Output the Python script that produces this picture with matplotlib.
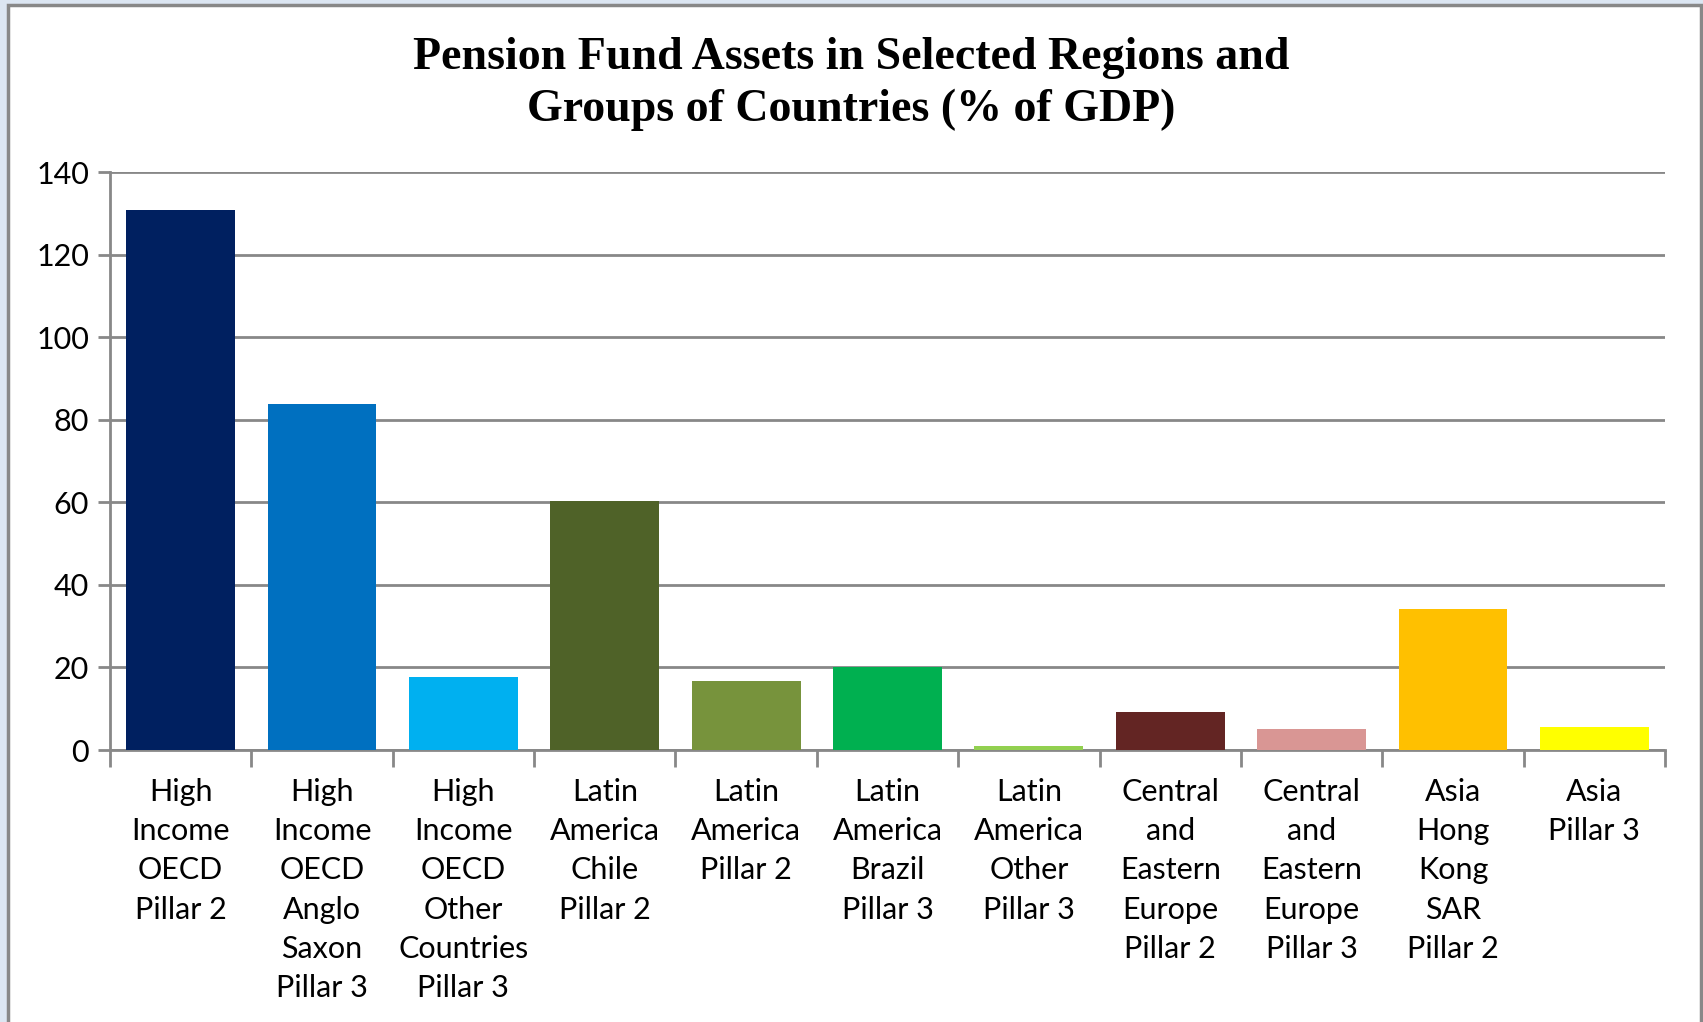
import matplotlib
matplotlib.use("Agg")
import matplotlib.pyplot as plt
from matplotlib.patches import Rectangle

categories = [
    "High\nIncome\nOECD\nPillar 2",
    "High\nIncome\nOECD\nAnglo\nSaxon\nPillar 3",
    "High\nIncome\nOECD\nOther\nCountries\nPillar 3",
    "Latin\nAmerica\nChile\nPillar 2",
    "Latin\nAmerica\nPillar 2",
    "Latin\nAmerica\nBrazil\nPillar 3",
    "Latin\nAmerica\nOther\nPillar 3",
    "Central\nand\nEastern\nEurope\nPillar 2",
    "Central\nand\nEastern\nEurope\nPillar 3",
    "Asia\nHong\nKong\nSAR\nPillar 2",
    "Asia\nPillar 3",
]
values = [130.8, 83.7, 17.7, 60.2, 16.7, 20.0, 1.0, 9.2, 5.1, 34.2, 5.6]
colors = ["#002060", "#0070c0", "#00b0f0", "#4f6228", "#77933c", "#00b050",
          "#92d050", "#632523", "#d99694", "#ffc000", "#ffff00"]
yticks = [0, 20, 40, 60, 80, 100, 120, 140]

W, H = 1703, 1022
fig = plt.figure(figsize=(W / 100, H / 100), dpi=100, facecolor="#dce6f2")
# white chart area with grey border
fig.patches.append(Rectangle((8 / W, -0.1), (1701 - 8) / W, 1.1 - 5 / H,
                             transform=fig.transFigure, facecolor="white",
                             edgecolor="#888888", linewidth=2.5, zorder=-10))

ax = fig.add_axes([110 / W, 1 - 750 / H, (1665 - 110) / W, (750 - 172) / H])
ax.set_zorder(5)
ax.set_facecolor("none")
x = list(range(len(values)))
ax.bar(x, values, width=0.77, color=colors, zorder=3)
ax.set_xlim(-0.5, len(values) - 0.5)
ax.set_ylim(0, 140)
ax.set_yticks(yticks)
ax.set_yticklabels([str(t) for t in yticks], fontsize=22, family="Lato")
ax.tick_params(axis="y", length=9, width=2, color="#888888", pad=6)
ax.yaxis.grid(True, color="#888888", linewidth=2, zorder=1)
ax.set_axisbelow(True)

# category boundary ticks below the axis
ax.set_xticks([i - 0.5 for i in range(len(values) + 1)])
ax.set_xticklabels([])
ax.tick_params(axis="x", which="major", length=12, width=2, color="#888888")
ax.set_xticks(x, minor=True)
ax.set_xticklabels(categories, minor=True, fontsize=22, family="Lato",
                   linespacing=1.49)
ax.tick_params(axis="x", which="minor", length=0, pad=20)

for s in ["top", "right"]:
    ax.spines[s].set_visible(False)
for s in ["left", "bottom"]:
    ax.spines[s].set_color("#888888")
    ax.spines[s].set_linewidth(2)

fig.text(0.5, 1 - 84 / H,
         "Pension Fund Assets in Selected Regions and\nGroups of Countries (% of GDP)",
         ha="center", va="center", fontsize=33, fontweight="bold",
         family="Liberation Serif", linespacing=1.3)

fig.savefig("out.png", dpi=100, facecolor=fig.get_facecolor())
